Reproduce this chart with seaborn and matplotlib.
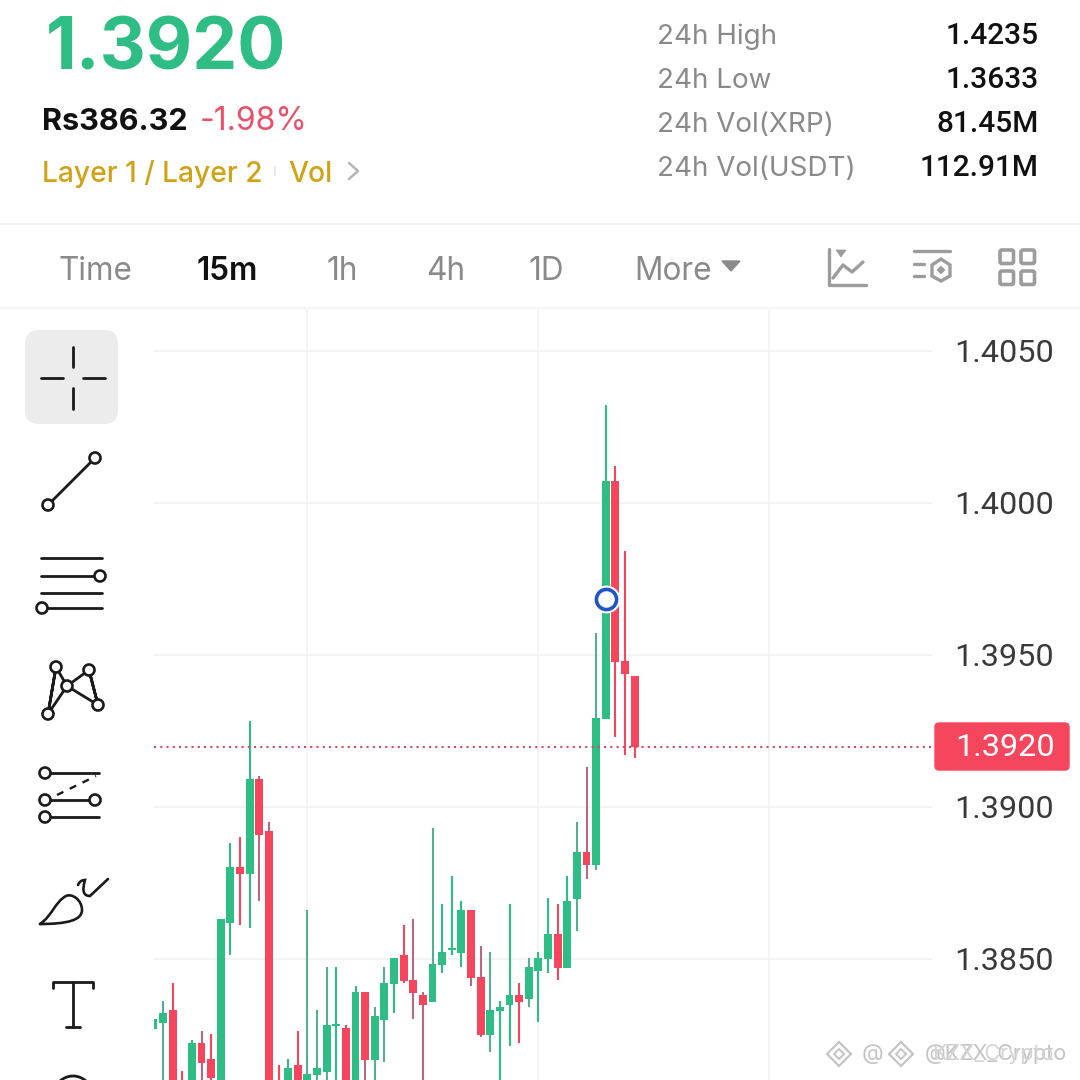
import matplotlib
matplotlib.use("Agg")
import matplotlib.pyplot as plt
from matplotlib.patches import FancyBboxPatch, Circle, Polygon, PathPatch
from matplotlib.path import Path
import seaborn as sns

sns.set_theme(style="white")
plt.rcParams['font.family'] = ['Inter', 'DejaVu Sans']

GREEN = '#2ebd85'
RED = '#f6465d'
GOLD = '#d0a215'
GRAY = '#8a8a8a'

# position -1 is the candle cut by the left edge of the plot
opens = [1.38270,1.38289,1.38332,1.38080,1.38000,1.38224,1.38171,1.38000,1.38618,1.38803,1.38780,1.39092,1.38921,1.38080,1.38000,
         1.38151,1.38000,1.38118,1.38128,1.38280,1.38273,1.38000,1.38391,1.38168,1.38299,1.38418,1.38513,1.38431,1.38382,1.38359,
         1.38480,1.38530,1.38520,1.38661,1.38441,1.38250,1.38329,1.38349,1.38382,1.38368,1.38461,1.38500,1.38582,1.38470,1.38697,
         1.38852,1.38809,1.39289,1.40072,1.39480,1.39431]
closes = [1.38303,1.38322,1.38000,1.38000,1.38224,1.38158,1.38109,1.38632,1.38803,1.38780,1.39092,1.38908,1.38000,1.38000,1.38141,
          1.38000,1.38122,1.38141,1.38283,1.38286,1.38000,1.38391,1.38168,1.38312,1.38421,1.38503,1.38428,1.38388,1.38349,1.38484,
          1.38523,1.38536,1.38661,1.38437,1.38250,1.38332,1.38342,1.38382,1.38359,1.38474,1.38503,1.38582,1.38470,1.38691,1.38852,
          1.38809,1.39293,1.40072,1.39477,1.39437,1.39197]
highs = [1.38303,1.38362,1.38421,1.38132,1.38233,1.38263,1.38253,1.38632,1.38882,1.38901,1.39283,1.39102,1.38951,1.38151,1.38171,
         1.38263,1.38661,1.38332,1.38474,1.38474,1.38283,1.38411,1.38391,1.38342,1.38474,1.38503,1.38612,1.38632,1.38391,1.38931,
         1.38681,1.38773,1.38691,1.38661,1.38543,1.38523,1.38362,1.38681,1.38421,1.38503,1.38523,1.38701,1.38681,1.38773,1.38951,
         1.39132,1.39572,1.40322,1.40122,1.39842,1.39431]
lows = [1.38270,1.38000,1.37950,1.37950,1.37950,1.38050,1.38085,1.37950,1.38513,1.38612,1.38602,1.38691,1.37950,1.37950,1.37950,
        1.37950,1.37950,1.38000,1.38000,1.38000,1.37950,1.37950,1.38000,1.38000,1.38161,1.38322,1.38421,1.38303,1.38000,1.38359,
        1.38454,1.38513,1.38474,1.38411,1.38243,1.38194,1.38000,1.38214,1.38224,1.38342,1.38293,1.38454,1.38431,1.38470,1.38592,
        1.38763,1.38793,1.39289,1.39230,1.39171,1.39161]
# candles whose wicks look washed out in the screenshot
muted_wicks = [0,1,5,7,11,12,16,17,18,22,23,24,27,28,29,33,34,35,39,44,45,46]
last_price = 1.39197
marker_price = 1.39684
marker_pos = 46
first_pos = -1
y_ticks = [1.4050, 1.4000, 1.3950, 1.3900, 1.3850]
y_labels = ['1.4050', '1.4000', '1.3950', '1.3900', '1.3850']
x_grid = [15, 39, 63]
stats = [('24h High', '1.4235'), ('24h Low', '1.3633'), ('24h Vol(XRP)', '81.45M'), ('24h Vol(USDT)', '112.91M')]
tabs = [('Time', 58, False), ('15m', 197, True), ('1h', 327, False), ('4h', 426, False), ('1D', 529, False), ('More', 634, False)]

fig = plt.figure(figsize=(10.8, 10.8), dpi=100, facecolor='white')

def box(l, t, r, b):
    return [l/1080, 1-b/1080, (r-l)/1080, (b-t)/1080]

# ---------- chart ----------
ax = fig.add_axes(box(154, 310, 932, 1080), facecolor='none')
px_per_pos = 9.625
ax.set_xlim((154-163)/px_per_pos, (932-163)/px_per_pos)
ax.set_ylim(1.405-(1080-351)*0.005/152, 1.405+41*0.005/152)
ax.set_yticks(y_ticks); ax.set_xticks(x_grid)
ax.tick_params(left=False, bottom=False, labelleft=False, labelbottom=False)
ax.grid(True, color='#f3f3f3', lw=1.3)
ax.set_axisbelow(True)
sns.despine(ax=ax, left=True, bottom=True, top=True, right=True)
pos = list(range(first_pos, first_pos+len(opens)))
for i, x in enumerate(pos):
    up = closes[i] >= opens[i]
    col = GREEN if up else RED
    wick = col
    if i in muted_wicks:
        wick = '#55ad92' if up else '#b56a82'
    ax.vlines(x, lows[i], highs[i], color=wick, lw=1.5, zorder=3)
    ax.bar(x, abs(closes[i]-opens[i]), bottom=min(opens[i], closes[i]), width=0.83, color=col, lw=0, zorder=4)
ax.axhline(last_price, color='#d9485f', lw=1.5, ls=(0, (1, 2)), zorder=5)
ax.plot([marker_pos], [marker_price], 'o', ms=19, mfc='white', mec='white', zorder=6)
ax.plot([marker_pos], [marker_price], 'o', ms=14.5, mfc='white', mec='#1f55c4', mew=2.6, zorder=7)

# ---------- page furniture in pixel coordinates ----------
ui = fig.add_axes([0, 0, 1, 1], facecolor='none')
ui.set_xlim(0, 1080); ui.set_ylim(1080, 0); ui.axis('off')

def T(x, y, s, size, color='black', weight='normal', ha='left', family=None):
    kw = {'family': family} if family else {}
    ui.text(x, y, s, fontsize=size, color=color, fontweight=weight, ha=ha, va='center', **kw)

def L(xs, ys, color='#1a1a1a', lw=2, **k):
    ui.plot(xs, ys, color=color, lw=lw, solid_capstyle='round', **k)

def C(x, y, r=5.5, color='#1a1a1a'):
    ui.add_patch(Circle((x, y), r, fc='white', ec=color, lw=1.9, zorder=5))

def curve(verts, codes, color='#1a1a1a', lw=1.9):
    ui.add_patch(PathPatch(Path(verts, codes), fc='none', ec=color, lw=lw, capstyle='round'))

T(46, 51, '1.3920', 51.5, GREEN, 'bold')
T(42, 122, 'Rs386.32', 22, '#111111', 'bold')
T(200, 122, '-1.98%', 23, '#e9506a')
T(42, 174, 'Layer 1 / Layer 2', 20.3, GOLD, 'medium')
L([275, 275], [167, 175], '#e8e8e8', 1.5)
T(288, 174, 'Vol', 20.3, GOLD, 'medium')
L([349, 358, 349], [163, 171, 179], '#b5b5b5', 1.8)

for (name, val), y in zip(stats, [36.5, 80.5, 124.5, 168.5]):
    T(657, y, name, 20, GRAY)
    T(1039, y-1, val, 21.5, '#111111', 'medium', ha='right', family='Roboto')

L([0, 1080], [224, 224], '#efefef', 1.2)
L([0, 1080], [308, 308], '#f5f5f5', 1.6)
for s, x, b in tabs:
    T(x, 271, s, 22.7, '#111111' if b else GRAY, 'semibold' if b else 'normal')
ui.add_patch(Polygon([(722, 261), (740, 261), (731, 271)], fc=GRAY, ec=GRAY, lw=1))

# top-right icons
ICON = '#9c9c9c'
L([829, 829, 866], [249, 285, 285], ICON, 2.4)
L([833, 843, 852, 863], [278, 265, 272, 262], ICON, 2.4)
ui.add_patch(Polygon([(836, 250), (846, 250), (841, 257)], fc=ICON, ec=ICON, lw=0.5))
L([914, 950], [251, 251], ICON, 2.4); L([914, 924], [264, 264], ICON, 2.4); L([914, 924], [276, 276], ICON, 2.4)
ui.add_patch(Polygon([(941, 259), (950, 265), (950, 276), (941, 281), (932, 276), (932, 265)], fc='white', ec=ICON, lw=2.4, zorder=4))
ui.add_patch(Polygon([(941, 266), (945, 270), (941, 274), (937, 270)], fc=ICON, ec=ICON, lw=0.5, zorder=5))
for bx in (1000, 1021):
    for by in (250, 271):
        ui.add_patch(FancyBboxPatch((bx, by), 13.5, 13.5, boxstyle='round,pad=0,rounding_size=2', fc='none', ec=ICON, lw=2.6))

# price axis labels
for s, v in zip(y_labels, y_ticks):
    y = 351 + (1.405-v)*152/0.005
    T(1054, y+2, s, 23.3, '#3a3a3a', ha='right', family='Roboto')
ui.add_patch(FancyBboxPatch((935, 723), 134, 47, boxstyle='round,pad=0,rounding_size=4', fc=RED, ec=RED, lw=1))
T(1055, 748, '1.3920', 23.3, 'white', ha='right', family='Roboto')

# drawing toolbar
ui.add_patch(FancyBboxPatch((25, 330), 93, 94, boxstyle='round,pad=0,rounding_size=14', fc='#ececec', ec='none'))
L([73, 73], [347, 367]); L([73, 73], [388, 409]); L([41, 63], [378, 378]); L([83, 105], [378, 378])
L([48, 95], [505, 458]); C(48, 505); C(95, 458)
L([41, 102], [558, 558]); L([41, 100], [576, 576]); L([41, 102], [593, 593]); L([42, 102], [608, 608])
C(100, 576); C(42, 608)
L([48, 56, 48, 67, 56], [714, 667, 714, 686, 667]); L([67, 89, 98, 89], [686, 670, 705, 670]); L([67, 98], [686, 705])
for p in [(48, 714), (56, 667), (67, 686), (89, 670), (98, 705)]:
    C(*p)
L([45, 99], [773, 773]); L([45, 99], [800, 800]); L([45, 99], [817, 817])
L([57, 96], [795, 776], ls=(0, (3, 3)), lw=1.7)
C(45, 773); C(45, 800); C(45, 817); C(95, 800)
curve([(40, 924), (52, 916), (55, 902), (66, 896), (72, 893), (82, 900), (82, 910), (82, 920), (68, 924), (40, 924)],
      [Path.MOVETO, Path.CURVE4, Path.CURVE4, Path.CURVE4, Path.CURVE4, Path.CURVE4, Path.CURVE4, Path.CURVE4, Path.CURVE4, Path.CURVE4])
curve([(78, 885), (80, 880), (85, 880), (80, 896), (90, 896), (108, 879)],
      [Path.MOVETO, Path.CURVE3, Path.CURVE3, Path.CURVE3, Path.CURVE3, Path.LINETO])
L([53, 53, 93, 93], [988, 982, 982, 988], lw=2); L([73, 73], [982, 1027], lw=2); L([66, 80], [1027, 1027], lw=2)
ui.add_patch(Circle((73, 1095), 19, fc='none', ec='#1a1a1a', lw=2))

# watermark
WM = '#c4c4c4'
for cx in (839, 901):
    ui.add_patch(Polygon([(cx, 1042), (cx+12, 1054), (cx, 1066), (cx-12, 1054)], fc='none', ec=WM, lw=1.6))
    ui.add_patch(Polygon([(cx, 1049), (cx+5, 1054), (cx, 1059), (cx-5, 1054)], fc='none', ec=WM, lw=1.4))
T(862, 1054, '@', 16, WM)
T(925, 1054, '@KZX_Crypto', 15.5, WM)
T(932, 1054, 'KZX_Crypto', 15.5, '#d4d4d4')

fig.savefig('out.png', dpi=100)
